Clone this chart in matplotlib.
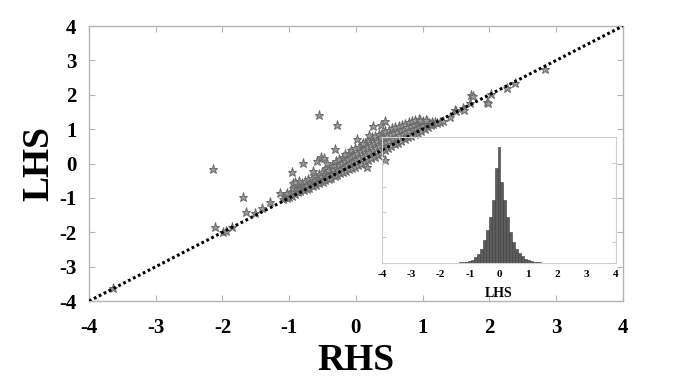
import numpy as np
import matplotlib
matplotlib.use('Agg')
import matplotlib.pyplot as plt

plt.rcParams['font.family'] = ['Liberation Serif', 'DejaVu Serif']
plt.rcParams['font.weight'] = 'bold'
plt.rcParams['axes.unicode_minus'] = False

# main scatter: RHS vs LHS, sparse points
sparse_pts = [
    (-3.64, -3.62), (-2.14, -0.17), (-2.11, -1.85), (-1.99, -1.99), (-1.94, -1.95),
    (-1.85, -1.85), (-1.69, -0.98), (-1.65, -1.41), (-1.51, -1.45), (-1.41, -1.30),
    (-1.29, -1.11), (-1.14, -0.86), (-0.96, -0.24), (-0.94, -0.57), (-0.85, -0.52),
    (-0.91, -0.53), (-0.80, 0.02), (-0.65, -0.21), (-0.58, 0.07), (-0.56, 1.41),
    (-0.53, 0.18), (-0.48, 0.15), (-0.43, 0.03), (-0.31, 0.42), (-0.29, 1.12),
    (0.02, 0.72), (0.20, 0.84), (0.25, 1.10), (0.38, 1.12), (0.43, 1.25),
    (0.11, 0.59), (0.38, 0.78), (0.43, 0.10), (0.16, -0.11), (0.96, 1.27),
    (1.05, 1.27), (1.26, 1.22), (1.30, 1.24), (1.41, 1.36), (1.48, 1.57),
    (1.50, 1.54), (1.60, 1.61), (1.62, 1.57), (1.71, 1.77), (1.73, 1.99),
    (1.75, 1.96), (1.96, 1.80), (1.98, 1.77), (2.02, 2.01), (2.26, 2.19),
    (2.38, 2.35), (2.83, 2.75),
]

# dense band of points around the diagonal
band_pts = [
    (-1.10, -1.04), (-1.07, -0.97), (-1.04, -1.01), (-1.05, -0.92), (-1.01, -0.98),
    (-0.99, -0.89), (-1.03, -0.85), (-0.96, -0.94), (-0.98, -0.84), (-0.94, -0.80),
    (-0.92, -0.89), (-0.90, -0.79), (-0.95, -0.72), (-0.87, -0.84), (-0.89, -0.75),
    (-0.86, -0.68), (-0.84, -0.80), (-0.82, -0.72), (-0.80, -0.63), (-0.78, -0.77),
    (-0.77, -0.67), (-0.81, -0.56), (-0.74, -0.73), (-0.73, -0.62), (-0.76, -0.52),
    (-0.70, -0.70), (-0.69, -0.60), (-0.72, -0.46), (-0.67, -0.52), (-0.65, -0.66),
    (-0.63, -0.57), (-0.66, -0.41), (-0.61, -0.47), (-0.60, -0.63), (-0.59, -0.53),
    (-0.62, -0.35), (-0.57, -0.42), (-0.55, -0.58), (-0.54, -0.49), (-0.56, -0.30),
    (-0.52, -0.37), (-0.50, -0.53), (-0.49, -0.44), (-0.51, -0.24), (-0.47, -0.31),
    (-0.46, -0.48), (-0.44, -0.39), (-0.45, -0.14), (-0.43, -0.25), (-0.41, -0.44),
    (-0.40, -0.34), (-0.42, -0.19), (-0.38, -0.27), (-0.37, -0.41), (-0.35, -0.30),
    (-0.36, -0.08), (-0.34, -0.17), (-0.32, -0.37), (-0.31, -0.24), (-0.33, -0.03),
    (-0.29, -0.12), (-0.28, -0.33), (-0.27, -0.20), (-0.30, 0.08), (-0.25, -0.05),
    (-0.24, -0.28), (-0.22, -0.15), (-0.26, 0.13), (-0.21, 0.02), (-0.20, -0.24),
    (-0.18, -0.10), (-0.19, 0.20), (-0.16, 0.08), (-0.15, -0.21), (-0.13, -0.04),
    (-0.17, 0.27), (-0.12, 0.14), (-0.11, -0.17), (-0.09, 0.01), (-0.10, 0.32),
    (-0.07, 0.20), (-0.06, -0.13), (-0.05, 0.06), (-0.08, 0.38), (-0.03, 0.26),
    (-0.02, -0.09), (0.00, 0.12), (-0.01, 0.44), (0.02, 0.31), (0.03, -0.05),
    (0.05, 0.17), (0.04, 0.48), (0.07, 0.37), (0.08, -0.01), (0.10, 0.22),
    (0.09, 0.55), (0.12, 0.42), (0.13, 0.04), (0.15, 0.27), (0.14, 0.61),
    (0.17, 0.48), (0.18, 0.09), (0.20, 0.33), (0.19, 0.68), (0.22, 0.53),
    (0.23, 0.15), (0.25, 0.39), (0.24, 0.76), (0.27, 0.59), (0.28, 0.20),
    (0.30, 0.45), (0.29, 0.81), (0.32, 0.65), (0.33, 0.26), (0.35, 0.51),
    (0.34, 0.86), (0.37, 0.70), (0.38, 0.32), (0.40, 0.57), (0.39, 0.90),
    (0.42, 0.75), (0.43, 0.38), (0.45, 0.62), (0.44, 0.94), (0.47, 0.80),
    (0.48, 0.44), (0.50, 0.67), (0.49, 0.98), (0.52, 0.85), (0.53, 0.50),
    (0.55, 0.72), (0.54, 1.02), (0.57, 0.89), (0.58, 0.56), (0.60, 0.77),
    (0.59, 1.06), (0.62, 0.93), (0.63, 0.61), (0.65, 0.82), (0.64, 1.10),
    (0.67, 0.97), (0.68, 0.66), (0.70, 0.87), (0.69, 1.13), (0.72, 1.01),
    (0.73, 0.71), (0.75, 0.92), (0.74, 1.16), (0.77, 1.05), (0.78, 0.76),
    (0.80, 0.96), (0.79, 1.20), (0.82, 1.09), (0.83, 0.81), (0.85, 1.00),
    (0.84, 1.24), (0.87, 1.13), (0.88, 0.86), (0.90, 1.04), (0.89, 1.28),
    (0.92, 1.16), (0.93, 0.90), (0.95, 1.08), (0.94, 1.31), (0.97, 1.19),
    (0.98, 0.95), (1.00, 1.11), (1.01, 1.23), (1.03, 1.01), (1.05, 1.15),
    (1.06, 1.24), (1.08, 1.06), (1.10, 1.17), (1.12, 1.11), (1.14, 1.21),
    (1.16, 1.14), (1.19, 1.20), (1.22, 1.17),
]

diag = [-4, 4]
axis_ticks = [-4, -3, -2, -1, 0, 1, 2, 3, 4]

# inset histogram of LHS
bin_centers = [-3.6, -2.1, -1.6, -1.5, -1.4, -1.3, -1.2, -1.1, -1.0, -0.9, -0.8,
               -0.7, -0.6, -0.5, -0.4, -0.3, -0.2, -0.1, 0.0, 0.1, 0.2, 0.3,
               0.4, 0.5, 0.6, 0.7, 0.8, 0.9, 1.0, 1.1, 1.2, 1.3, 1.4, 1.5,
               1.6, 1.8, 2.0, 2.4, 2.8]
bin_counts = [1, 1, 1, 1, 1.5, 2, 2.5, 3, 6, 10, 18,
              28, 43, 68, 98, 138, 190, 283, 346, 243, 188, 138,
              93, 63, 43, 30, 20, 13, 8, 5, 3.5, 2.5, 2, 1.5,
              1.2, 1, 1, 1, 1]

spine_gray = '#b4b4b4'


def main():
    fig = plt.figure(figsize=(6.87, 3.83), dpi=100)
    ax = fig.add_axes([0.1296, 0.214, 0.777, 0.718])

    rhs = [p[0] for p in band_pts + sparse_pts]
    lhs = [p[1] for p in band_pts + sparse_pts]
    ax.plot(rhs, lhs, '*', ms=6.5, mfc='#999999', mec='#6a6a6a', mew=0.7, zorder=5)
    ax.plot(diag, diag, color='black', lw=2.2, ls=(0, (0.9, 0.9)), zorder=6)

    ax.set_xlim(-4, 4)
    ax.set_ylim(-4, 4)
    ax.set_xticks(axis_ticks)
    ax.set_yticks(axis_ticks)
    ax.tick_params(direction='in', length=4, color=spine_gray, top=True, right=True,
                   labelsize=15, pad=9)
    ax.tick_params(axis='x', pad=12)
    for lab in ax.get_xticklabels() + ax.get_yticklabels():
        lab.set_fontweight('bold')
    for s in ax.spines.values():
        s.set_color(spine_gray)
        s.set_linewidth(1.0)
    ax.set_xlabel('RHS', fontsize=27, fontweight='bold', labelpad=4)
    ax.set_ylabel('LHS', fontsize=27, fontweight='bold', labelpad=2)

    # inset, transparent so the scatter shows through
    axi = fig.add_axes([0.556, 0.3133, 0.3406, 0.329])
    axi.patch.set_alpha(0)
    axi.bar(bin_centers, bin_counts, width=0.1, color='#5c5c5c', edgecolor='#3a3a3a',
            linewidth=0.4)
    axi.set_xlim(-4, 4)
    axi.set_ylim(0, 377)
    axi.set_xticks(axis_ticks)
    axi.set_yticks([78, 152, 226, 300])
    axi.set_yticklabels([])
    axi.tick_params(direction='in', length=3, color='#c8c8c8', labelsize=8, pad=5)
    axi.tick_params(axis='x', length=0)
    for lab in axi.get_xticklabels():
        lab.set_fontweight('bold')
    for s in axi.spines.values():
        s.set_color('#cfcfcf')
        s.set_linewidth(0.8)
    axi.set_xlabel('LHS', fontsize=10, fontweight='bold', labelpad=6)
    axr = axi.twinx()
    axr.set_ylim(0, 377)
    axr.set_yticks([63, 193, 298])
    axr.set_yticklabels([])
    axr.tick_params(direction='in', length=3, color='#c8c8c8')
    for s in axr.spines.values():
        s.set_visible(False)

    fig.savefig('out.png', dpi=100)


if __name__ == "__main__":
    main()
